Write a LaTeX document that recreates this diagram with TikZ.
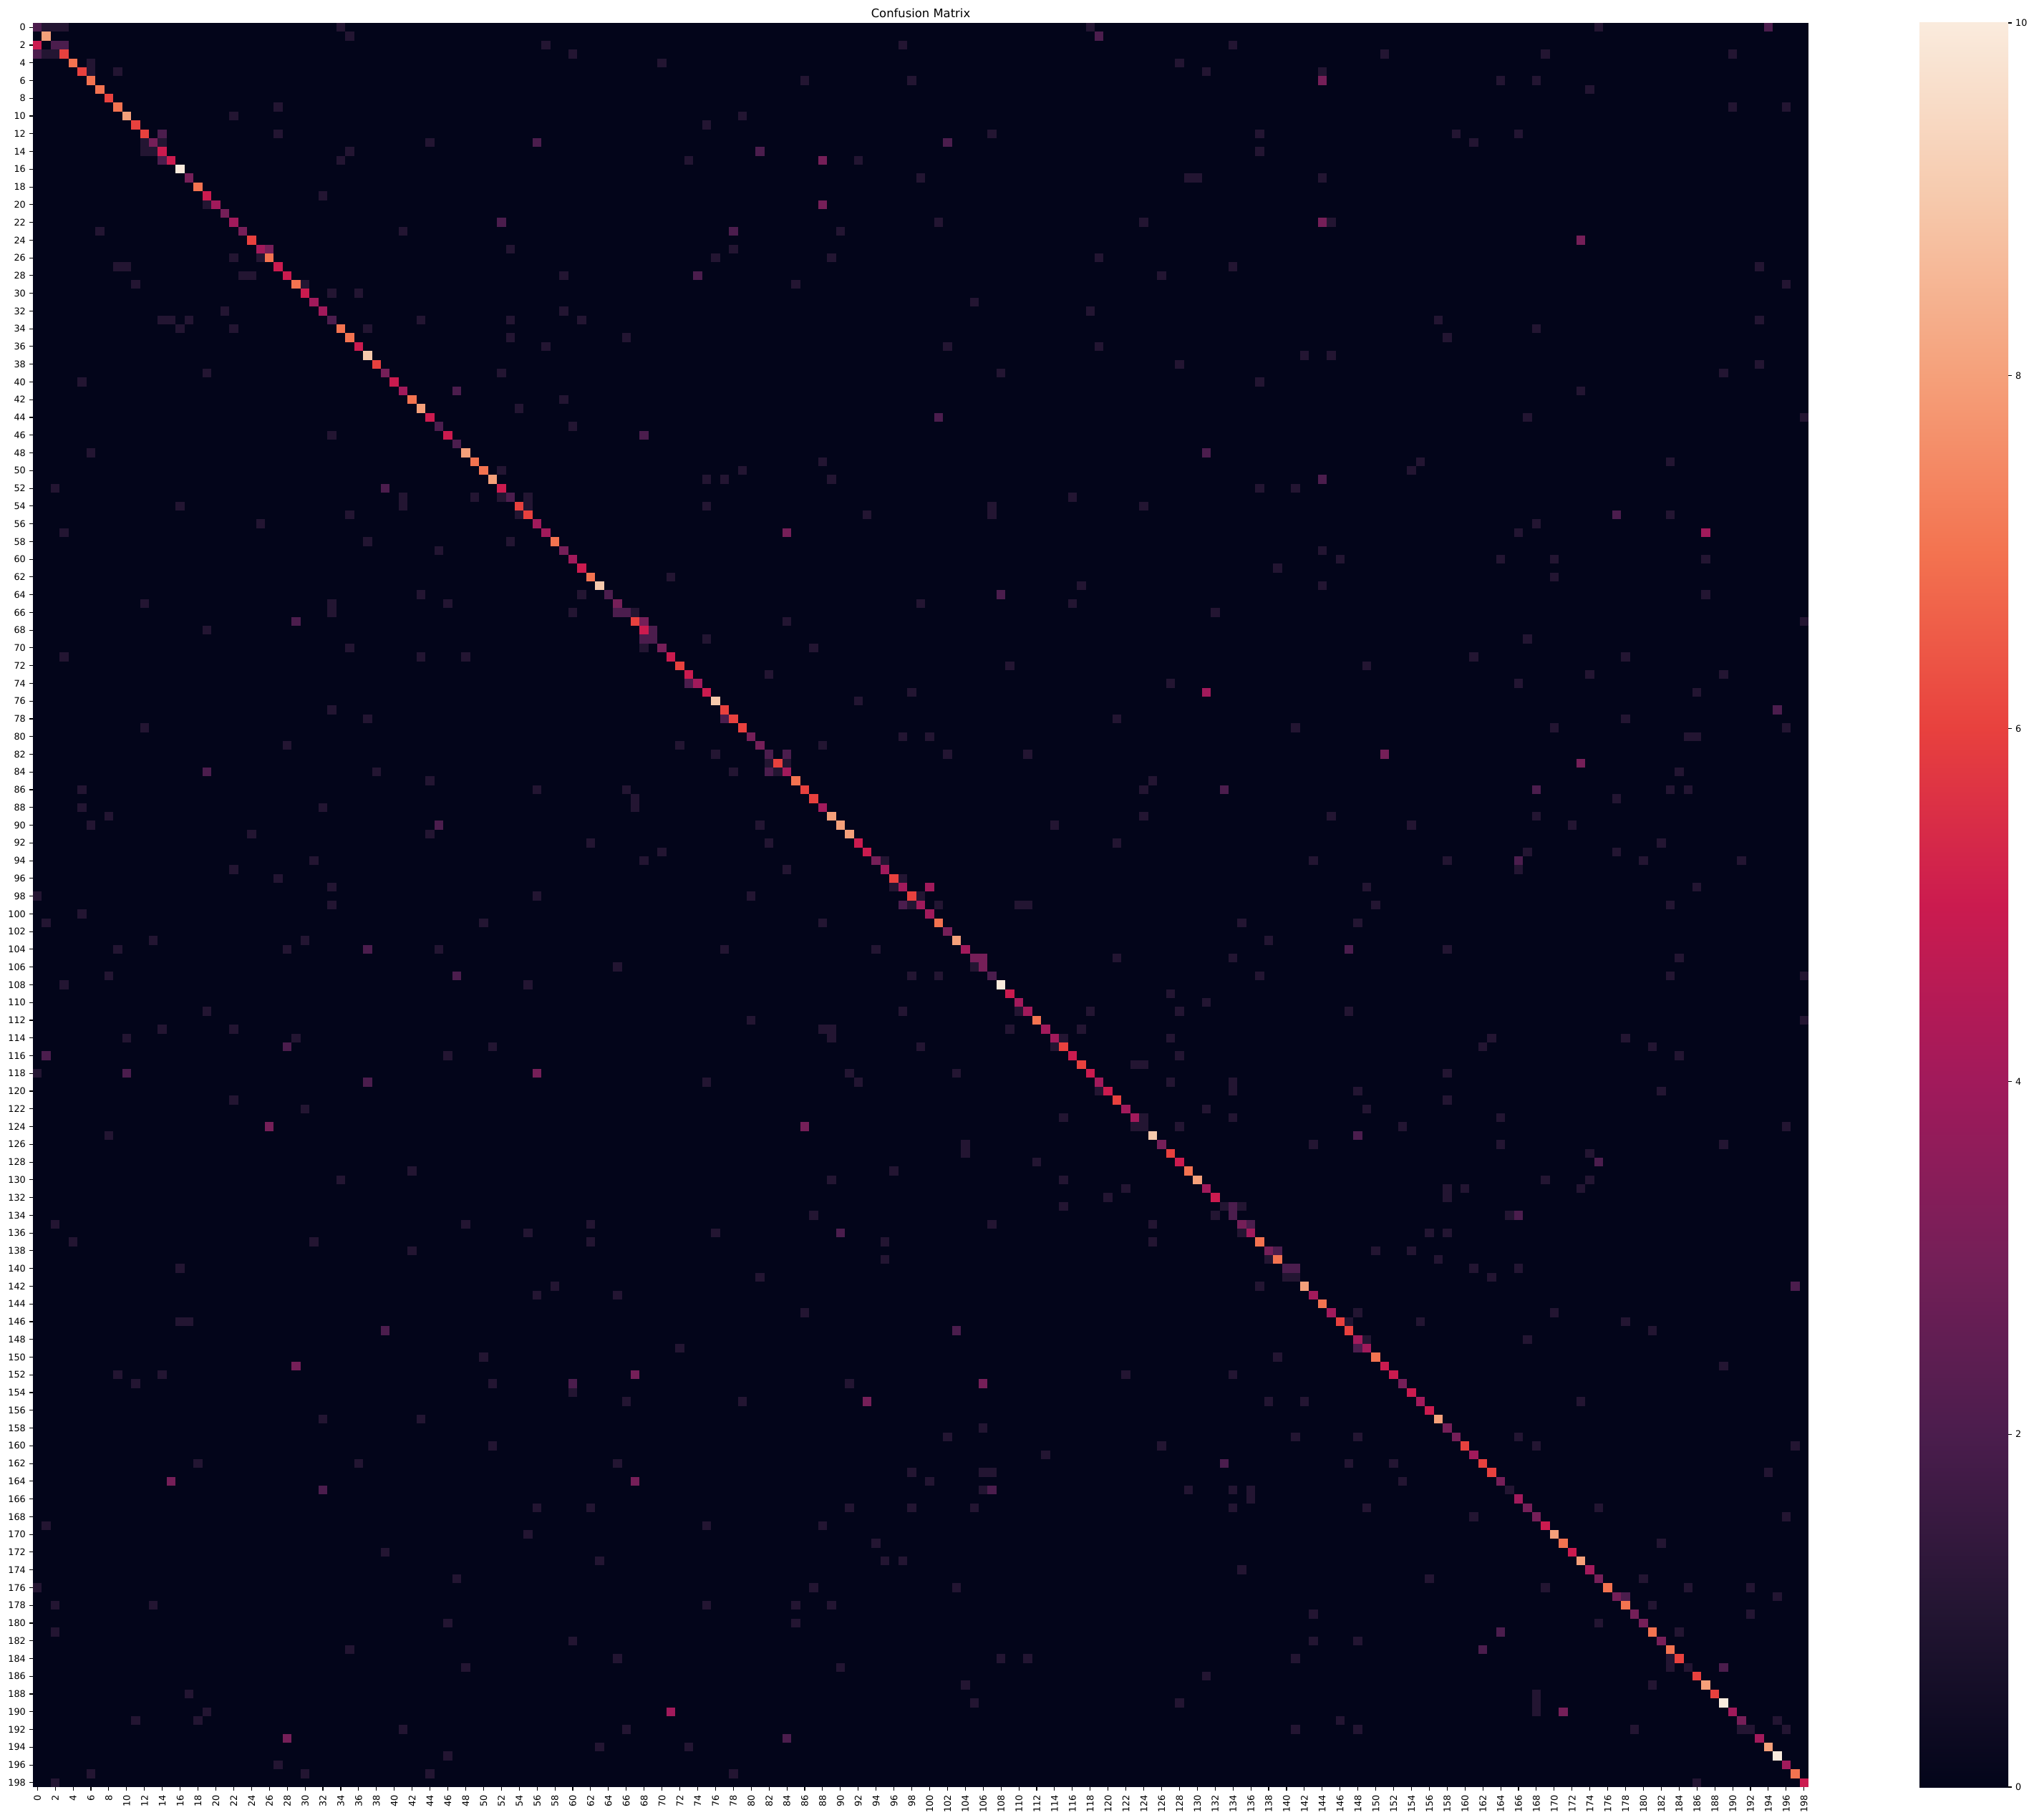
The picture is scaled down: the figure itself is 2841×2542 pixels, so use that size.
\documentclass[tikz,border=0pt]{standalone}
\usepackage{fontspec}
\setmainfont{DejaVu Sans}
\usepackage{xcolor}

\definecolor{rk0}{HTML}{03051A}
\definecolor{rk1}{HTML}{231532}
\definecolor{rk2}{HTML}{4B1D4D}
\definecolor{rk3}{HTML}{751F58}
\definecolor{rk4}{HTML}{A11A5B}
\definecolor{rk5}{HTML}{CB1B4F}
\definecolor{rk6}{HTML}{E8413E}
\definecolor{rk7}{HTML}{F37350}
\definecolor{rk8}{HTML}{F5A07A}
\definecolor{rk9}{HTML}{F6C9AC}
\definecolor{rk10}{HTML}{FAEBDD}

\pgfdeclareverticalshading{rocketbar}{100bp}{color(0bp)=(rk0); color(25bp)=(rk0); color(30bp)=(rk1); color(35bp)=(rk2); color(40bp)=(rk3); color(45bp)=(rk4); color(50bp)=(rk5); color(55bp)=(rk6); color(60bp)=(rk7); color(65bp)=(rk8); color(70bp)=(rk9); color(75bp)=(rk10); color(100bp)=(rk10)}

\def\cw{12.4623}
\def\ch{12.3819}

\begin{document}
\begin{tikzpicture}[x=1pt, y=-1pt]
                \tikzset{Lab/.style={%
                    inner sep=0pt,%
                    font=\fontsize{12.8}{14}\selectfont,%
                },
                YLab/.style={Lab, anchor=east},
                XLab/.style={Lab, anchor=east, rotate=90},
                CbLab/.style={Lab, anchor=west},
                TickMark/.style={line width=1.1pt, black}}

                \fill[white] (0,0) rectangle (2841,2542);
                \useasboundingbox (0,0) rectangle (2841,2542);

                \node[Lab, font=\fontsize{16.4}{18}\selectfont] (title) at (1286,18) {Confusion Matrix};

                \begin{scope}[shift={(46,32)}]
                \fill[rk0] (0,0) rectangle (2480,2464);

                \pgfmathsetseed{4711}
                \foreach \k in {1,...,460} {
                    \pgfmathrandominteger{\rr}{0}{198}
                    \pgfmathrandominteger{\cc}{0}{198}
                    \pgfmathtruncatemacro{\br}{\rr/34}
                    \pgfmathtruncatemacro{\bc}{\cc/34}
                    \ifnum\br=\bc\else
                        \fill[fill=rk1] (\cc*\cw,\rr*\ch) rectangle ++(\cw,\ch);
                    \fi
                }
                \foreach \k in {1,...,45} {
                    \pgfmathrandominteger{\rr}{0}{198}
                    \pgfmathrandominteger{\cc}{0}{198}
                    \pgfmathtruncatemacro{\br}{\rr/34}
                    \pgfmathtruncatemacro{\bc}{\cc/34}
                    \ifnum\br=\bc\else
                        \fill[fill=rk2] (\cc*\cw,\rr*\ch) rectangle ++(\cw,\ch);
                    \fi
                }

                \foreach \r/\c/\v in {0/1/1, 0/2/1, 0/3/1, 2/0/5, 2/3/2, 3/0/2, 3/1/1, 3/2/1, 4/6/1, 5/6/1, 5/9/1, 9/27/1, 10/22/1, 12/14/2, 12/27/1, 13/12/1, 13/14/1, 14/12/1, 14/13/1, 15/14/2, 19/32/1, 20/19/1, 23/7/1, 25/26/3, 26/22/1, 26/25/1, 27/9/1, 27/10/1, 28/23/1, 28/24/1, 29/11/1, 29/30/1, 30/33/1, 32/21/1, 33/14/1, 33/15/1, 33/17/1, 34/16/1,
                    33/43/1, 33/53/1, 33/61/1, 34/37/1, 35/53/1, 35/66/1, 36/57/1, 39/52/1, 41/47/2, 42/59/1, 43/54/1, 45/60/1, 50/52/1, 52/39/2, 53/41/1, 53/49/1, 53/52/1, 53/55/1, 54/41/1, 54/55/1, 55/35/1, 55/54/1, 58/37/1, 58/53/1, 59/45/1, 64/43/1, 64/61/1, 65/33/1, 65/46/1, 66/33/1, 66/60/1, 66/65/2, 66/67/1,
                    67/68/3, 68/69/2, 69/68/2, 69/75/1, 70/68/1, 70/87/1, 73/82/1, 74/73/2, 75/98/1, 76/92/1, 78/77/2, 80/97/1, 80/100/1, 81/72/1, 81/88/1, 82/76/1, 82/84/2, 83/82/1, 83/84/1, 84/78/1, 84/82/2, 84/83/1, 90/81/1, 92/82/1, 93/70/1, 94/68/1, 94/95/1, 95/84/1, 96/97/1, 97/96/1, 97/100/4, 98/80/1, 98/99/1, 99/97/2, 99/98/1, 99/101/1, 101/88/1,
                    101/135/1, 105/106/3, 105/121/1, 105/134/1, 106/105/1, 107/101/1, 109/127/1, 110/131/1, 111/110/1, 111/118/1, 111/128/1, 113/109/1, 113/117/1, 114/115/1, 114/127/1, 115/114/1, 116/128/1, 117/123/1, 117/124/1, 118/103/1, 119/127/1, 119/134/1, 120/119/1, 120/134/1, 122/131/1, 123/115/1, 123/124/1, 123/134/1, 124/123/1, 124/128/1, 126/104/1, 127/104/1, 128/112/1, 130/115/1, 131/122/1, 132/120/1, 133/115/1, 133/134/2, 133/135/1, 134/132/1, 135/107/1, 135/125/1,
                    134/165/1, 134/166/2, 135/136/2, 136/135/1, 136/156/1, 136/158/1, 138/139/2, 138/150/1, 138/154/1, 139/138/1, 139/157/1, 140/141/2, 140/161/1, 140/166/1, 141/140/1, 141/163/1, 142/137/1, 145/148/1, 146/147/1, 146/155/1, 148/149/1, 148/167/1, 149/148/2, 150/139/1, 152/134/1, 155/138/1, 155/142/1, 159/141/1, 159/148/1, 159/166/1, 160/168/1, 162/147/1, 162/152/1, 164/153/1, 165/134/1, 165/136/1, 166/136/1, 167/134/1, 167/149/1, 168/161/1, 167/175/1,
                    168/196/1, 171/182/1, 175/180/1, 176/185/1, 176/192/1, 177/178/2, 177/195/1, 178/181/1, 179/192/1, 180/175/1, 181/184/1, 184/183/1, 185/183/1, 185/189/2, 187/181/1, 190/168/1, 190/171/3, 191/195/1, 192/179/1, 192/191/1, 192/196/1, 198/186/1, 198/2/1, 197/6/1,
                    5/144/1, 6/144/3, 15/88/3, 20/88/3, 22/52/2, 22/144/3, 24/173/3, 57/84/3, 57/187/4, 75/131/4, 82/151/3, 83/173/3, 118/56/3, 124/26/3, 124/86/3, 151/29/3, 152/67/3, 153/106/3, 155/93/3, 164/15/3, 165/32/2, 164/67/3, 190/71/4, 193/28/3, 193/84/2} {
                    \fill[fill=rk\v] (\c*\cw,\r*\ch) rectangle ++(\cw,\ch);
                }

                \foreach \v [count=\i from 0] in {2,8,2,6,7,6,7,7,6,7, 8,6,6,3,5,5,10,3,7,5, 4,3,4,3,6,4,7,5,5,7, 5,4,4,2,7,7,5,9,6,3,
                    5,4,7,8,5,2,5,2,8,7, 7,8,5,2,6,6,4,4,7,3, 4,5,7,9,2,3,2,6,5,2, 3,5,6,5,4,5,9,6,6,6, 3,3,2,6,4,7,6,6,4,8,
                    8,8,5,5,3,4,6,4,6,4, 4,7,3,8,4,3,3,2,10,5, 4,4,7,4,4,6,5,6,5,4, 5,6,4,4,1,9,3,6,5,7, 8,4,5,1,2,
                    3,4,7,3,7,2,1,8,4,7, 4,6,6,4,4,7,5,5,3,5, 4,5,8,3,3,6,4,6,6,3, 1,4,3,3,
                    5,8,7,5,8,4,3,7,3,7, 3,3,7,3,7,6,1,6,8,6, 10,4,3,1,4,8,10,4,7,5} {
                    \fill[fill=rk\v] (\i*\cw,\i*\ch) rectangle ++(\cw,\ch);
                }
                \end{scope}

                \foreach \k in {0,2,...,198} {
                    \node[YLab] (yl\k) at (36,32+\ch*\k+\ch/2) {\k};
                    \draw[TickMark] (41,32+\ch*\k+\ch/2) -- (46,32+\ch*\k+\ch/2);
                    \node[XLab] (xl\k) at (46+\cw*\k+\cw/2,2507) {\k};
                    \draw[TickMark] (46+\cw*\k+\cw/2,2496) -- (46+\cw*\k+\cw/2,2501);
                }

                \shade[shading=rocketbar] (2681,32) rectangle (2805,2496);
                \foreach \v in {0,2,...,10} {
                    \node[CbLab] (cb\v) at (2815,2496-246.4*\v) {\v};
                    \draw[TickMark] (2805,2496-246.4*\v) -- (2810,2496-246.4*\v);
                }
            \end{tikzpicture}
\end{document}
